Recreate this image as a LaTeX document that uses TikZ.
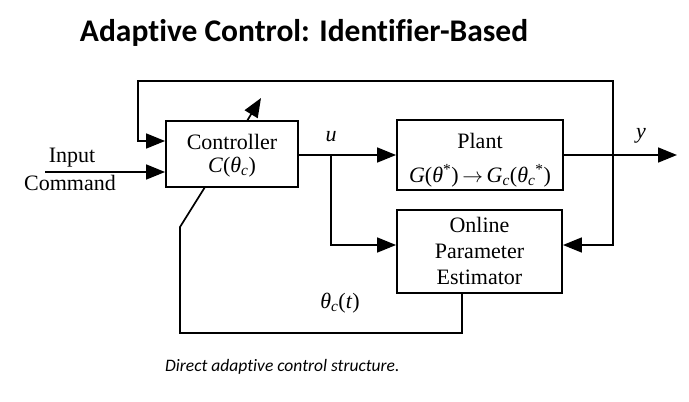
\documentclass[tikz,border=0pt]{standalone}
\usepackage{fontspec}
\setmainfont{Liberation Serif}
\newfontfamily\calfont[Ligatures=NoCommon]{Carlito}
\usetikzlibrary{arrows.meta}
\newcommand\mysub[1]{\textsubscript{\itshape #1}}
\newcommand\mysup[1]{\textsuperscript{#1}}
\begin{document}
\begin{tikzpicture}[x=1pt,y=-1pt,
  wire/.style={line width=1.7pt},
  arr/.style={wire,-{Triangle[length=19pt,width=15pt]}},
  blk/.style={draw,line width=1.9pt,inner sep=0pt},
  lbl/.style={font=\fontsize{22}{24}\selectfont,inner sep=0pt}]
\useasboundingbox (0,0) rectangle (689,402);
% title and caption
\node[font=\calfont\bfseries\fontsize{31.5}{34}\selectfont,inner sep=0pt] (title) at (304,33) {Adaptive Control: Identifier-Based};
\node[font=\calfont\itshape\fontsize{17.5}{20}\selectfont,inner sep=0pt,anchor=west] (cap) at (165,367) {Direct adaptive control structure.};
% blocks
\node[blk,minimum width=132pt,minimum height=66pt] (ctrl) at (232,154) {};
\node[lbl] (ctrlA) at (232,142) {Controller};
\node[lbl] (ctrlB) at (232,167) {\textit{C}(\textit{θ}\mysub{c})};
\node[blk,minimum width=166pt,minimum height=70pt] (plant) at (480,155) {};
\node[lbl] (plA) at (480,141) {Plant};
\node[lbl] (plB) at (480,176) {\textit{G}(\textit{θ}\mysup{*})\,$\rightarrow$\,\textit{G}\mysub{c}(\textit{θ}\mysub{c}\mysup{*})};
\node[blk,minimum width=165pt,minimum height=83pt] (est) at (479.5,251.5) {};
\node[lbl] (esA) at (479.5,225) {Online};
\node[lbl] (esB) at (479.5,251) {Parameter};
\node[lbl] (esC) at (479.5,277) {Estimator};
% labels
\node[lbl] (inA) at (72,158) {Input};
\node[lbl] (inB) at (70,183) {Command};
\node[lbl] (ulbl) at (331,137) {\textit{u}};
\node[lbl] (ylbl) at (641,136) {\textit{y}};
\node[lbl] (thlbl) at (340,303) {\textit{θ}\mysub{c}(\textit{t})};
% coordinates
\coordinate (inS) at (45,172);
\coordinate (br) at (331,155);
\coordinate (ye) at (677,155);
\coordinate (rt) at (613,81);
\coordinate (lt) at (138,81);
\coordinate (dA) at (180,227);
\coordinate (dB) at (205,187);
\coordinate (dC) at (247,121);
\coordinate (dD) at (261,98);
% connectors
\draw[arr] (inS) -- (inS -| ctrl.west);
\draw[arr] (ctrl.east |- br) -- (plant.west |- br);
\draw[arr] (br) |- (est.west |- 0,245);
\draw[arr] (plant.east |- br) -- (ye);
\draw[arr] (rt |- br) -- (rt) -- (lt) |- (ctrl.west |- 0,141);
\draw[arr] (rt |- br) |- (est.east |- 0,245);
\draw[wire] (est.south -| 462,0) |- (180,333) -- (dA) -- (dB);
\draw[arr] (dC) -- (dD);
\end{tikzpicture}
\end{document}
